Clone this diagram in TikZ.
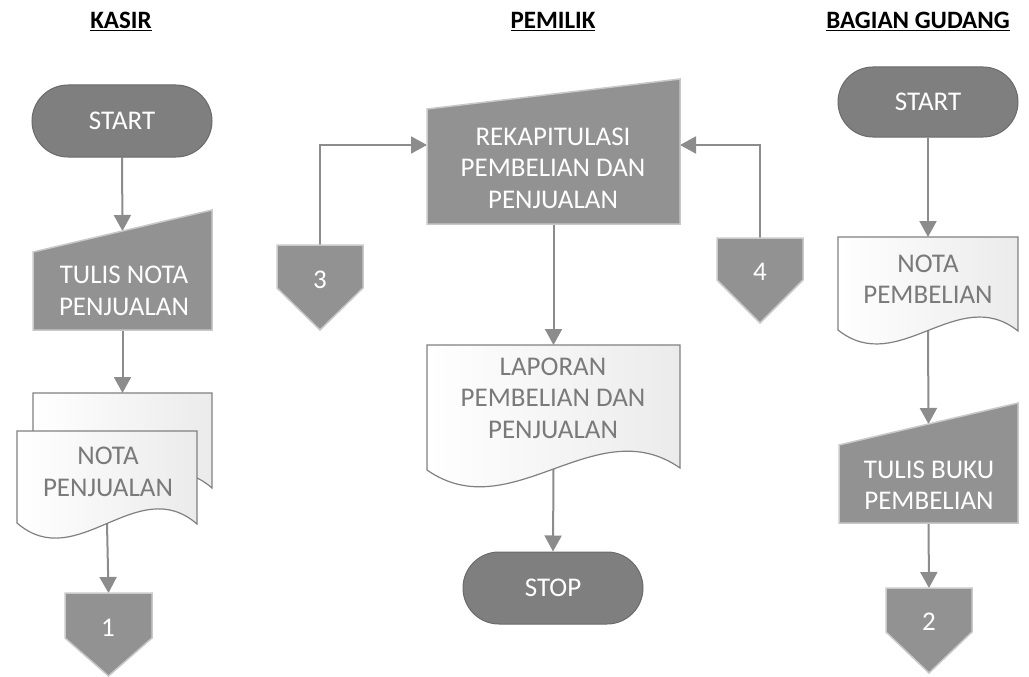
\documentclass[tikz,border=0pt]{standalone}
\usepackage{fontspec}
\setmainfont{Carlito}
\usetikzlibrary{arrows.meta,shapes.misc,backgrounds}
\definecolor{termfill}{HTML}{7F7F7F}
\definecolor{termline}{HTML}{6B6B6B}
\definecolor{procfill}{HTML}{929292}
\definecolor{procline}{HTML}{C9C9C9}
\definecolor{arrowc}{HTML}{8C8C8C}
\definecolor{docline}{HTML}{808080}
\definecolor{doctext}{HTML}{7A7A7A}
\definecolor{docshade}{HTML}{EBEBEB}
\tikzset{
 txt/.style={font=\fontsize{27}{31.5}\selectfont, align=center, inner sep=0pt},
 termbox/.style={rounded rectangle, fill=termfill, draw=termline, line width=1pt, text=white, txt, minimum width=180pt, minimum height=72pt},
 manual/.style={fill=procfill, draw=procline, line width=1.5pt},
 docbox/.style={left color=white, right color=docshade, draw=docline, line width=1.2pt},
 connbox/.style={fill=procfill, draw=procline, line width=1.5pt},
 whitetxt/.style={txt, text=white},
 graytxt/.style={txt, text=doctext},
 header/.style={font=\fontsize{25}{28}\selectfont\bfseries, inner sep=0pt, anchor=base},
 arr/.style={draw=arrowc, line width=2pt, -{Triangle[length=16pt,width=17pt]}},
}
% name, L, R, T, y-left-bottom, y-right-bottom, wave depth
\newcommand{\docshape}[7]{%
 \path[docbox] (#2,#4) -- (#3,#4) -- (#3,#6) .. controls ({#3-(#3-#2)/3},{#6-#7}) and ({#2+(#3-#2)/3},{#5+#7}) .. (#2,#5) -- cycle;
 \coordinate (#1-top) at ({(#2+#3)/2},#4);
 \coordinate (#1-bot) at ({(#2+#3)/2},{(#5+#6)/2});
}
% name, L, R, y-top-left, y-top-right, bottom
\newcommand{\manshape}[6]{%
 \path[manual] (#2,#4) -- (#3,#5) -- (#3,#6) -- (#2,#6) -- cycle;
 \coordinate (#1-top) at ({(#2+#3)/2},{(#4+#5)/2});
 \coordinate (#1-bot) at ({(#2+#3)/2},#6);
}
% name, L, R, T, shoulder, bottom
\newcommand{\connshape}[6]{%
 \path[connbox] (#2,#4) -- (#3,#4) -- (#3,#5) -- ({(#2+#3)/2},#6) -- (#2,#5) -- cycle;
 \coordinate (#1-top) at ({(#2+#3)/2},#4);
}
\begin{document}
\begin{tikzpicture}[x=1pt,y=-1pt]
\useasboundingbox (0,0) rectangle (1029,677);
% headers
\node[header] (hk) at (121,29) {\underline{KASIR}};
\node[header] (hp) at (553,29) {\underline{PEMILIK}};
\node[header] (hg) at (918,29) {\underline{BAGIAN GUDANG}};
% KASIR
\node[termbox] (ks) at (122,121) {START};
\manshape{k2s}{33}{212}{252}{210}{330}
\node[whitetxt] (k2) at (124,291) {TULIS NOTA\\PENJUALAN};
\docshape{k3b}{33}{212}{393}{486}{488}{52}
\docshape{k3f}{17}{197}{431}{523}{524}{52}
\node[graytxt] (k3) at (108,472) {NOTA\\PENJUALAN};
\connshape{k4s}{65}{152}{593}{638}{676}
\node[whitetxt] (k4) at (108,628) {1};
% PEMILIK
\manshape{p1s}{427}{680}{109}{79}{224}
\node[whitetxt] (p1) at (553,168) {REKAPITULASI\\PEMBELIAN DAN\\PENJUALAN};
\coordinate (p1-left) at (427,145);
\coordinate (p1-right) at (680,145);
\connshape{p3s}{277}{363}{245}{288}{330}
\node[whitetxt] (p3) at (320,280) {3};
\connshape{p4s}{717}{803}{238}{280}{323}
\node[whitetxt] (p4) at (760,272) {4};
\docshape{p2s}{427}{680}{345}{470}{468}{59}
\node[graytxt] (p2) at (553,398) {LAPORAN\\PEMBELIAN DAN\\PENJUALAN};
\node[termbox] (ps) at (553,588) {STOP};
% BAGIAN GUDANG
\node[termbox, minimum height=70pt] (gs) at (928,102) {START};
\docshape{g2s}{838}{1018}{237}{330}{331}{48}
\node[graytxt] (g2) at (928,279) {NOTA\\PEMBELIAN};
\manshape{g3s}{839}{1018}{445}{403}{523}
\node[whitetxt] (g3) at (929,485) {TULIS BUKU\\PEMBELIAN};
\connshape{g4s}{886}{972}{588}{632}{673}
\node[whitetxt] (g4) at (929,622) {2};
% connectors
\begin{scope}[on background layer]
\draw[arr] (ks.south) -- (k2s-top);
\draw[arr] (k2s-bot) -- (k3b-top);
\draw[arr] (k3f-bot) -- (k4s-top);
\draw[arr] (p3s-top) |- (p1-left);
\draw[arr] (p4s-top) |- (p1-right);
\draw[arr] (p1s-bot) -- (p2s-top);
\draw[arr] (p2s-bot) -- (ps.north);
\draw[arr] (gs.south) -- (g2s-top);
\draw[arr] (g2s-bot) -- (g3s-top);
\draw[arr] (g3s-bot) -- (g4s-top);
\end{scope}
\end{tikzpicture}
\end{document}
